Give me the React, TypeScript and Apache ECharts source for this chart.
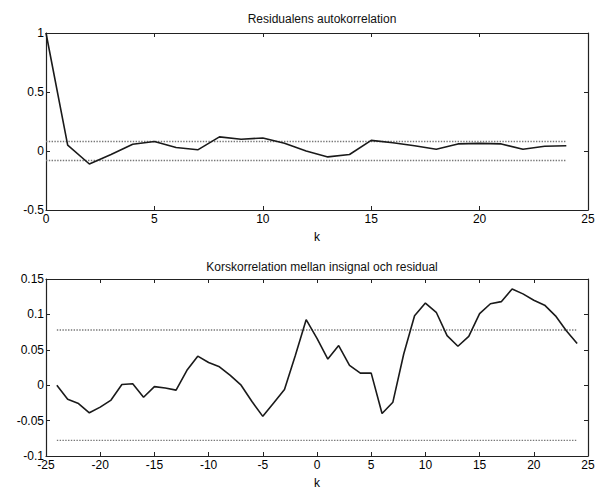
import React, { useEffect, useRef } from "react";
import * as echarts from "echarts";

const acfLags = [0,1,2,3,4,5,6,7,8,9,10,11,12,13,14,15,16,17,18,19,20,21,22,23,24];
const acfValues = [1,0.05,-0.11,-0.03,0.057,0.08,0.03,0.01,0.12,0.1,0.11,0.065,0.0,-0.05,-0.03,0.09,0.07,0.045,0.015,0.06,0.065,0.06,0.015,0.04,0.045];
const acfConf = 0.08;

const ccfLags = [-24,-23,-22,-21,-20,-19,-18,-17,-16,-15,-14,-13,-12,-11,-10,-9,-8,-7,-6,-5,-4,-3,-2,-1,0,1,2,3,4,5,6,7,8,9,10,11,12,13,14,15,16,17,18,19,20,21,22,23,24];
const ccfValues = [0.0,-0.02,-0.026,-0.039,-0.031,-0.021,0.001,0.002,-0.017,-0.002,-0.004,-0.007,0.021,0.041,0.032,0.026,0.014,0.0,-0.023,-0.044,-0.025,-0.006,0.042,0.0925,0.066,0.037,0.056,0.028,0.017,0.017,-0.040,-0.024,0.044,0.098,0.116,0.103,0.070,0.055,0.069,0.101,0.115,0.118,0.136,0.129,0.120,0.113,0.098,0.077,0.059];
const ccfConf = 0.078;

const topTitle = "Residualens autokorrelation";
const bottomTitle = "Korskorrelation mellan insignal och residual";
const xName = "k";

export default function App() {
  const ref = useRef<HTMLDivElement>(null);
  useEffect(() => {
    if (!ref.current) return;
    const chart = echarts.init(ref.current, null, { renderer: "svg" });
    const font = "Liberation Sans, Arial, sans-serif";
    const labelStyle = { color: "#000", fontSize: 12, fontFamily: font };
    const tickStyle = { lineStyle: { color: "#222", width: 1 } };
    const lineCol = "#1a1a1a";
    const confStyle = { color: "#777", width: 1.4, type: "dotted" as const };

    const mainX = (gridIndex: number, min: number, max: number) => ({
      type: "value", gridIndex, min, max, interval: 5,
      name: xName, nameLocation: "middle", nameGap: 21,
      nameTextStyle: { color: "#000", fontSize: 12, fontFamily: font },
      axisLine: { show: true, onZero: false, lineStyle: { color: "#222", width: 1.2 } },
      axisTick: { show: true, inside: true, length: 4, ...tickStyle },
      axisLabel: { ...labelStyle, margin: 3 },
      splitLine: { show: false },
    });
    const mirrorX = (gridIndex: number, min: number, max: number) => ({
      type: "value", gridIndex, min, max, interval: 5, position: "top",
      axisLine: { show: true, onZero: false, lineStyle: { color: "#222", width: 1.2 } },
      axisTick: { show: true, inside: true, length: 4, ...tickStyle },
      axisLabel: { show: false },
      splitLine: { show: false },
    });
    const mainY = (gridIndex: number, min: number, max: number, interval: number) => ({
      type: "value", gridIndex, min, max, interval,
      axisLine: { show: true, onZero: false, lineStyle: { color: "#222", width: 1.2 } },
      axisTick: { show: true, inside: true, length: 4, ...tickStyle },
      axisLabel: { ...labelStyle, margin: 2 },
      splitLine: { show: false },
    });
    const mirrorY = (gridIndex: number, min: number, max: number, interval: number) => ({
      type: "value", gridIndex, min, max, interval, position: "right",
      axisLine: { show: true, onZero: false, lineStyle: { color: "#222", width: 1.2 } },
      axisTick: { show: true, inside: true, length: 4, ...tickStyle },
      axisLabel: { show: false },
      splitLine: { show: false },
    });

    chart.setOption({
      animation: false,
      backgroundColor: "#fff",
      title: [
        { text: topTitle, left: 317, top: 8, textAlign: "center",
          textStyle: { fontSize: 12, fontWeight: "normal", color: "#111", fontFamily: font } },
        { text: bottomTitle, left: 317, top: 256, textAlign: "center",
          textStyle: { fontSize: 12, fontWeight: "normal", color: "#111", fontFamily: font } },
      ],
      grid: [
        { left: 46, right: 10, top: 33, height: 177 },
        { left: 46, right: 10, top: 279, height: 177 },
      ],
      xAxis: [
        mainX(0, 0, 25), mirrorX(0, 0, 25),
        mainX(1, -25, 25), mirrorX(1, -25, 25),
      ],
      yAxis: [
        mainY(0, -0.5, 1, 0.5), mirrorY(0, -0.5, 1, 0.5),
        mainY(1, -0.1, 0.15, 0.05), mirrorY(1, -0.1, 0.15, 0.05),
      ],
      series: [
        { type: "line", xAxisIndex: 0, yAxisIndex: 0, showSymbol: false,
          data: acfLags.map((k) => [k, acfConf]), lineStyle: confStyle },
        { type: "line", xAxisIndex: 0, yAxisIndex: 0, showSymbol: false,
          data: acfLags.map((k) => [k, -acfConf]), lineStyle: confStyle },
        { type: "line", xAxisIndex: 0, yAxisIndex: 0, showSymbol: false,
          data: acfLags.map((k, i) => [k, acfValues[i]]),
          lineStyle: { color: lineCol, width: 1.6 } },
        { type: "line", xAxisIndex: 2, yAxisIndex: 2, showSymbol: false,
          data: ccfLags.map((k) => [k, ccfConf]), lineStyle: confStyle },
        { type: "line", xAxisIndex: 2, yAxisIndex: 2, showSymbol: false,
          data: ccfLags.map((k) => [k, -ccfConf]), lineStyle: confStyle },
        { type: "line", xAxisIndex: 2, yAxisIndex: 2, showSymbol: false,
          data: ccfLags.map((k, i) => [k, ccfValues[i]]),
          lineStyle: { color: lineCol, width: 1.6 } },
      ],
    });
    return () => chart.dispose();
  }, []);
  return (
    <div
      ref={ref}
      style={{ position: "fixed", left: 0, top: 0, width: 598, height: 491, background: "#fff" }}
    />
  );
}
